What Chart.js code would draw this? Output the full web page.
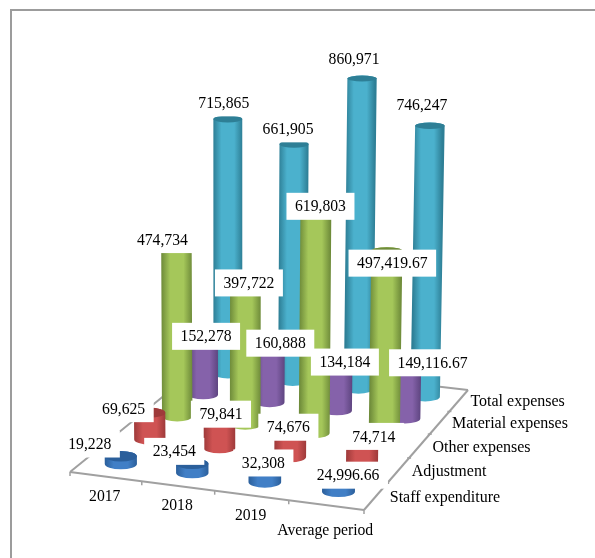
<!DOCTYPE html>
<html>
<head>
<meta charset="utf-8">
<title>Expenses by period</title>
<script src="https://cdn.jsdelivr.net/npm/chart.js@4"></script>
<style>
  html, body { margin: 0; padding: 0; background: #fff; }
  #wrap { position: relative; width: 595px; height: 558px; overflow: hidden; }
  #frame { position: absolute; left: 10px; top: 9px; width: 600px; height: 600px;
           border-left: 2px solid #9c9c9c; border-top: 2px solid #9c9c9c; }
  canvas { position: absolute; left: 0; top: 0; }
</style>
</head>
<body>
<div id="wrap">
  <div id="frame"></div>
  <canvas id="myChart" width="595" height="558"></canvas>
</div>
<script>
const categories = ['2017', '2018', '2019', 'Average period'];
const seriesNames = ['Staff expenditure', 'Adjustment', 'Other expenses', 'Material expenses', 'Total expenses'];

const staffExpenditure = [19228, 23454, 32308, 24996.66];
const adjustment = [69625, 79841, 74676, 74714];
const otherExpenses = [474734, 397722, 619803, 497419.67];
const materialExpenses = [152278, 160888, 134184, 149116.67];
const totalExpenses = [715865, 661905, 860971, 746247];

const seriesValues = [staffExpenditure, adjustment, otherExpenses, materialExpenses, totalExpenses];
const brightColors = ['#417fc6', '#cf5353', '#a5c75a', '#8562aa', '#4bb1cd'];
const darkColors = ['#2b5f9b', '#9e3a3a', '#6f8c3a', '#5e4580', '#2e7f96'];

// value label shift from the top of each cylinder, per series then per category
const labelShift = [
  [[-31, -7], [-18, -7], [-1.5, -1], [9.5, -1]],
  [[-26, 1], [1.5, 2], [-2, 4.5], [11.5, 5]],
  [[-14, 5], [3.5, 12.5], [4.5, 12.5], [5.5, 16]],
  [[3, 2], [10.5, 4.5], [7.5, 6], [26.5, 4.5]],
  [[-4, -13], [-6, -12], [-8, -17], [-8, -18]]
];

const VALUE_FONT = '15.7px "Liberation Serif"';
const AXIS_FONT = '16px "Liberation Serif"';
const AXIS_COLOR = '#a0a0a0';

// floor of the 3d box: front left, front right, back right, back left
const floorCorners = [[70, 472], [364, 510], [468, 390], [208, 360]];
// tall cylinders lean outward from this x, per pixel of height
const LEAN_CENTER = 230;
const LEAN_RATE = 0.00009;

// perspective map from the unit square (u along categories, w into depth) to the canvas
function makeFloor(q) {
  const [x0, y0] = q[0], [x1, y1] = q[1], [x2, y2] = q[2], [x3, y3] = q[3];
  const dx1 = x1 - x2, dx2 = x3 - x2, dy1 = y1 - y2, dy2 = y3 - y2;
  const sx = x0 - x1 + x2 - x3, sy = y0 - y1 + y2 - y3;
  const det = dx1 * dy2 - dx2 * dy1;
  const g = (sx * dy2 - dx2 * sy) / det;
  const h = (dx1 * sy - sx * dy1) / det;
  const a = x1 - x0 + g * x1, b = x3 - x0 + h * x3;
  const d = y1 - y0 + g * y1, e = y3 - y0 + h * y3;
  return (u, w) => {
    const den = g * u + h * w + 1;
    return { x: (a * u + b * w + x0) / den, y: (d * u + e * w + y0) / den, s: 1 / den };
  };
}
const floor = makeFloor(floorCorners);

class CylinderElement extends Chart.BarElement {
  static id = 'cylinder';
  static defaults = Chart.BarElement.defaults;
  static defaultRoutes = Chart.BarElement.defaultRoutes;

  topRadiusY() {
    const rx = this.width / 2;
    return rx * (0.33 - 0.13 * Math.min(1, (this.base - this.y) / 320));
  }

  topX() {
    return this.x + (this.x - LEAN_CENTER) * LEAN_RATE * (this.base - this.y);
  }

  draw(ctx) {
    const { x, y, base, width, options } = this;
    const rx = width / 2;
    const ryBase = rx * 0.33;
    const ryTop = this.topRadiusY();
    const tx = this.topX();
    const mid = (x + tx) / 2;
    const grad = ctx.createLinearGradient(mid - rx, 0, mid + rx, 0);
    grad.addColorStop(0, options.borderColor);
    grad.addColorStop(0.28, options.backgroundColor);
    grad.addColorStop(0.72, options.backgroundColor);
    grad.addColorStop(1, options.borderColor);

    ctx.save();
    ctx.fillStyle = grad;
    ctx.beginPath();
    ctx.moveTo(tx - rx, y);
    ctx.lineTo(x - rx, base);
    ctx.ellipse(x, base, rx, ryBase, 0, Math.PI, 0, true);
    ctx.lineTo(tx + rx, y);
    ctx.ellipse(tx, y, rx, ryTop, 0, 0, Math.PI, true);
    ctx.closePath();
    ctx.fill();

    // cap
    ctx.fillStyle = options.borderColor;
    ctx.beginPath();
    ctx.ellipse(tx, y, rx, ryTop, 0, 0, Math.PI * 2);
    ctx.fill();
    ctx.restore();
  }
}

// bar controller that moves each bar from the flat scales onto the floor
class CylinderController extends Chart.BarController {
  static id = 'cylinder';
  static defaults = Object.assign({}, Chart.BarController.defaults, { dataElementType: 'cylinder' });
  static overrides = Chart.BarController.overrides;

  updateElement(bar, index, props, mode) {
    if (props && props.x !== undefined) {
      const u = this._cachedMeta.xScale.getDecimalForPixel(props.x);
      const w = (this.index + 0.5) / this.chart.data.datasets.length;
      const p = floor(u, w);
      const h = (props.base - props.y) * p.s;
      props.x = p.x;
      props.base = p.y;
      props.y = p.y - h;
      props.height = -h;
      props.width = props.width * p.s;
    }
    super.updateElement(bar, index, props, mode);
  }
}

Chart.register(CylinderController, CylinderElement);

function line(ctx, a, b) {
  ctx.beginPath();
  ctx.moveTo(a.x, a.y);
  ctx.lineTo(b.x, b.y);
  ctx.stroke();
}

// floor outline, ticks and axis names
const floorAxes = {
  id: 'floorAxes',
  beforeDatasetsDraw(chart) {
    const ctx = chart.ctx;
    const nCat = categories.length, nSer = seriesNames.length;
    ctx.save();
    ctx.strokeStyle = AXIS_COLOR;
    ctx.lineWidth = 2;
    line(ctx, floor(0, 0), floor(1, 0));
    line(ctx, floor(1, 0), floor(1, 1));
    line(ctx, floor(1, 1), floor(0, 1));
    line(ctx, floor(0, 1), floor(0, 0));

    ctx.lineWidth = 1.5;
    for (let i = 0; i <= nCat; i++) {
      const p = floor(i / nCat, 0);
      line(ctx, p, { x: p.x, y: p.y + 4 });
    }
    for (let j = 1; j < nSer; j++) {
      const p = floor(1, j / nSer);
      line(ctx, { x: p.x - 2, y: p.y }, { x: p.x + 2, y: p.y });
    }

    ctx.fillStyle = '#000';
    ctx.textBaseline = 'middle';
    ctx.textAlign = 'center';
    ctx.font = VALUE_FONT;
    categories.forEach((c, i) => {
      const p = floor((i + 0.5) / nCat, 0);
      ctx.fillText(c, p.x - 1, p.y + (i === nCat - 1 ? 26 : 20));
    });
    ctx.textAlign = 'left';
    ctx.font = AXIS_FONT;
    seriesNames.forEach((n, j) => {
      const p = floor(1, (j + 0.5) / nSer);
      ctx.fillText(n, p.x + 14 - j * 0.6, p.y + 1.5);
    });
    ctx.restore();
  }
};

// white boxed value labels over every cylinder
const valueLabels = {
  id: 'valueLabels',
  afterDatasetsDraw(chart) {
    const ctx = chart.ctx;
    ctx.save();
    ctx.font = VALUE_FONT;
    ctx.textAlign = 'center';
    ctx.textBaseline = 'middle';
    for (let d = seriesValues.length - 1; d >= 0; d--) {
      chart.getDatasetMeta(d).data.forEach((bar, i) => {
        const text = seriesValues[d][i].toLocaleString('en-US', { maximumFractionDigits: 2 });
        const [dx, dy] = labelShift[d][i];
        const cx = bar.topX() + dx;
        const cy = bar.y - bar.topRadiusY() + dy;
        const w = ctx.measureText(text).width + 17;
        ctx.fillStyle = '#fff';
        ctx.fillRect(cx - w / 2, cy - 13.5, w, 27);
        ctx.fillStyle = '#000';
        ctx.fillText(text, cx, cy + 1);
      });
    }
    ctx.restore();
  }
};

const ctx = document.getElementById('myChart').getContext('2d');
new Chart(ctx, {
  type: 'cylinder',
  data: {
    labels: categories,
    datasets: seriesNames.map((name, d) => ({
      label: name,
      data: seriesValues[d],
      backgroundColor: brightColors[d],
      borderColor: darkColors[d],
      borderWidth: 0,
      barThickness: 32.5,
      grouped: false
    }))
  },
  options: {
    responsive: false,
    animation: false,
    events: [],
    layout: { padding: 0 },
    plugins: { legend: { display: false }, tooltip: { enabled: false }, title: { display: false } },
    scales: {
      x: { type: 'category', offset: true, display: false },
      y: { type: 'linear', min: 0, max: 1395000, display: false }
    }
  },
  plugins: [floorAxes, valueLabels]
});
</script>
</body>
</html>
